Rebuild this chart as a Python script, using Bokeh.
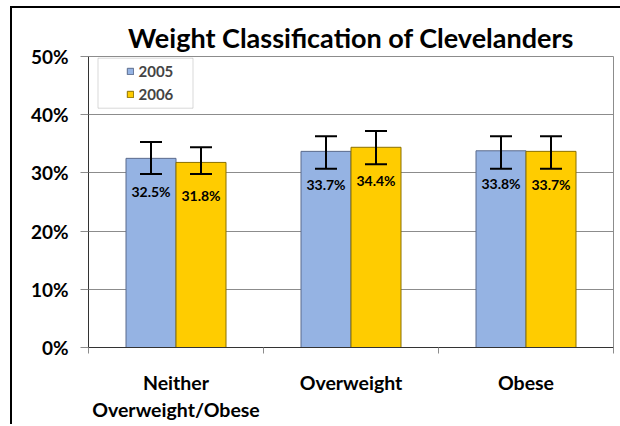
from bokeh.plotting import figure
from bokeh.models import (ColumnDataSource, Whisker, TeeHead, LabelSet, FixedTicker,
                          PrintfTickFormatter, Range1d, Legend, LegendItem, BoxAnnotation, Title)
from bokeh.core.properties import value
from bokeh.embed import file_html
from bokeh.resources import INLINE

# ---- data ----
categories = ["Neither\nOverweight/Obese", "Overweight", "Obese"]
years = ["2005", "2006"]
values_2005 = [32.5, 33.7, 33.8]
values_2006 = [31.8, 34.4, 33.7]
lower_2005 = [29.8, 30.7, 30.7]
upper_2005 = [35.3, 36.3, 36.3]
lower_2006 = [29.8, 31.5, 30.7]
upper_2006 = [34.4, 37.2, 36.3]
y_ticks = [0, 10, 20, 30, 40, 50]

FONT = "Lato"
BLUE = "#95B3E3"
BLUE_LINE = "#5b6b8c"
YELLOW = "#FFCC00"
YELLOW_LINE = "#8a7000"
BAR_W = 50 / 175.0
DODGE = BAR_W / 2

p = figure(frame_width=525, frame_height=291, output_backend="svg", toolbar_location=None,
           x_range=Range1d(0, 3), y_range=Range1d(0, 50),
           min_border_left=76, min_border_right=7, min_border_top=48, min_border_bottom=77)
p.margin = (6, 0, 0, 10)
p.styles = {"border-top": "2px solid black", "border-left": "2px solid black"}
p.title = Title(text="Weight Classification of Clevelanders", align="center",
                text_font=FONT, text_font_style="bold", text_font_size="27px",
                text_color="black", standoff=5)

centers = [i + 0.5 for i in range(len(categories))]
src05 = ColumnDataSource(dict(x=[c - DODGE for c in centers], top=values_2005,
                              lower=lower_2005, upper=upper_2005,
                              lab=[f"{v:.1f}%" for v in values_2005]))
src06 = ColumnDataSource(dict(x=[c + DODGE for c in centers], top=values_2006,
                              lower=lower_2006, upper=upper_2006,
                              lab=[f"{v:.1f}%" for v in values_2006]))

r05 = p.vbar(x="x", top="top", width=BAR_W, source=src05, fill_color=BLUE,
             line_color=BLUE_LINE, line_width=1)
r06 = p.vbar(x="x", top="top", width=BAR_W, source=src06, fill_color=YELLOW,
             line_color=YELLOW_LINE, line_width=1)

for s in (src05, src06):
    w = Whisker(source=s, base="x", lower="lower", upper="upper", line_width=2,
                line_color="black", level="overlay",
                upper_head=TeeHead(size=22, line_width=2, line_color="black"),
                lower_head=TeeHead(size=22, line_width=2, line_color="black"))
    p.add_layout(w)
    p.add_layout(LabelSet(source=s, x="x", y="top", text="lab", y_offset=-33,
                          text_align="center", text_baseline="middle",
                          text_font=value(FONT), text_font_style="bold",
                          text_font_size="14px", text_color="black", level="overlay"))

# axes
p.xaxis.ticker = FixedTicker(ticks=centers, minor_ticks=[0, 1, 2, 3])
p.xaxis.major_label_overrides = {c: lab for c, lab in zip(centers, categories)}
p.xaxis.major_tick_out = 0
p.xaxis.major_tick_in = 0
p.xaxis.minor_tick_out = 6
p.xaxis.minor_tick_in = 0
p.xaxis.minor_tick_line_color = "#8c8c8c"
p.xaxis.axis_line_color = "#333333"
p.xaxis.major_label_standoff = 17
p.xaxis.major_label_text_font = FONT
p.xaxis.major_label_text_font_style = "bold"
p.xaxis.major_label_text_font_size = "19.5px"
p.xaxis.major_label_text_color = "black"

p.yaxis.ticker = FixedTicker(ticks=y_ticks)
p.yaxis.formatter = PrintfTickFormatter(format="%d%%")
p.yaxis.minor_tick_line_color = None
p.yaxis.major_tick_out = 8
p.yaxis.major_tick_in = 0
p.yaxis.major_tick_line_color = "#8c8c8c"
p.yaxis.axis_line_color = "#333333"
p.yaxis.major_label_standoff = 12
p.yaxis.major_label_text_font = FONT
p.yaxis.major_label_text_font_style = "bold"
p.yaxis.major_label_text_font_size = "19px"
p.yaxis.major_label_text_color = "black"

p.xgrid.grid_line_color = None
p.ygrid.ticker = FixedTicker(ticks=y_ticks)
p.ygrid.grid_line_color = "#8c8c8c"
p.ygrid.grid_line_width = 1
p.outline_line_color = "#8c8c8c"
p.outline_line_width = 1

# legend frame
p.add_layout(BoxAnnotation(left=9.5, right=104.5, bottom=239.3, top=289.3,
                           left_units="screen", right_units="screen",
                           bottom_units="screen", top_units="screen",
                           fill_color="white", fill_alpha=1, line_color="#808080",
                           line_width=1, level="annotation"))
legend = Legend(items=[LegendItem(label=years[0], renderers=[r05]),
                       LegendItem(label=years[1], renderers=[r06])],
                location=(34.5, 240.5), padding=3, spacing=3, margin=0,
                label_height=20, glyph_height=8, glyph_width=8, label_standoff=5,
                label_text_font=FONT, label_text_font_style="bold",
                label_text_font_size="15px", border_line_alpha=0,
                background_fill_alpha=0)
p.add_layout(legend)

p.background_fill_color = "white"
p.border_fill_color = "white"

open("out.html", "w").write(file_html(p, INLINE))
